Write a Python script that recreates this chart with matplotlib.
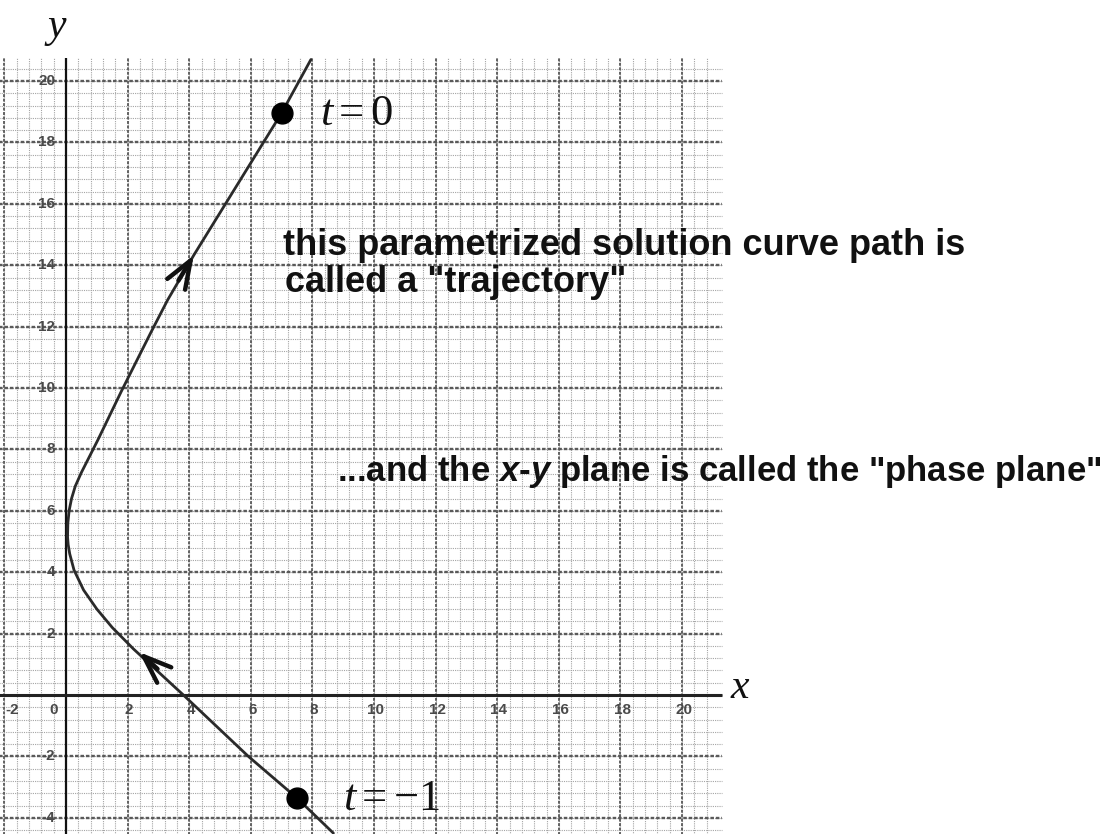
import numpy as np
import matplotlib
matplotlib.use("Agg")
import matplotlib.pyplot as plt

plt.rcParams['mathtext.fontset'] = 'custom'
plt.rcParams['mathtext.rm'] = 'Liberation Serif'
plt.rcParams['mathtext.it'] = 'Liberation Serif:italic'
plt.rcParams['mathtext.sf'] = 'Liberation Sans:italic:bold'

# ---- data ----
traj_x = [8.68, 7.49, 5.92, 3.81, 2.19, 1.5, 1.0, 0.57, 0.26, 0.12, 0.07, 0.05,
          0.06, 0.10, 0.18, 0.30, 0.50, 1.03, 1.8, 2.75, 3.3, 4.15, 7.0, 7.95]
traj_y = [-4.5, -3.35, -2.0, 0.0, 1.5, 2.2, 2.8, 3.42, 4.07, 4.6, 4.9, 5.15,
          5.6, 6.0, 6.4, 6.8, 7.25, 8.3, 9.9, 11.8, 12.87, 14.33, 18.96, 20.7]
marked_t = ["0", "\u22121"]
marked_x = [7.0, 7.49]
marked_y = [18.96, -3.35]
# arrowheads: tip position and direction along the trajectory
arrow_tip_x = [4.15, 2.37]
arrow_tip_y = [14.33, 1.4]
arrow_dir_x = [0.5, -0.6]
arrow_dir_y = [0.83, 0.55]

x_ticks = [-2, 0, 2, 4, 6, 8, 10, 12, 14, 16, 18, 20]
x_tick_labels = ["-2", "0", "2", "4", "6", "8", "10", "12", "14", "16", "18", "20"]
y_ticks = [20, 18, 16, 14, 12, 10, 8, 6, 4, 2, -2, -4]
y_tick_labels = ["20", "18", "16", "14", "12", "10", "8", "6", "4", "2", "-2", "-4"]

# paper extents
paper_x = (-2.2, 21.3)
paper_y = (-4.6, 20.75)

fig = plt.figure(figsize=(11.01, 8.34), dpi=100)
ax = fig.add_axes([0, 0, 1, 1])
ax.set_xlim(-2.143, 33.60)
ax.set_ylim(-4.528, 22.64)
ax.axis('off')

# graph paper grid
minor = np.arange(-4.8, 21.2, 0.4)
mx = minor[(minor >= paper_x[0]) & (minor <= paper_x[1])]
my = minor[(minor >= paper_y[0]) & (minor <= paper_y[1])]
ax.vlines(mx, paper_y[0], paper_y[1], color='#a5a5a5', lw=0.8, ls=(0, (1, 1)), zorder=1)
ax.hlines(my, paper_x[0], paper_x[1], color='#a5a5a5', lw=0.8, ls=(0, (1, 1)), zorder=1)
major = np.arange(-4, 22, 2)
Mx = major[(major >= paper_x[0]) & (major <= paper_x[1]) & (major != 0)]
My = major[(major >= paper_y[0]) & (major <= paper_y[1]) & (major != 0)]
ax.vlines(Mx, paper_y[0], paper_y[1], color='#626262', lw=1.4, ls=(0, (1.5, 0.8)), zorder=2)
ax.hlines(My, paper_x[0], paper_x[1], color='#5a5a5a', lw=1.7, ls=(0, (1.5, 0.8)), zorder=2)

# axes
ax.vlines(0, paper_y[0], paper_y[1], color='#111111', lw=1.6, zorder=3)
ax.hlines(0, paper_x[0], paper_x[1], color='#222222', lw=2.2, zorder=3)

# tick labels
for xv, lab in zip(x_ticks, x_tick_labels):
    xp = xv + 0.05
    if xv == 0:
        xp = -0.4
    if xv == -2:
        xp = -1.75
    ax.text(xp, -0.5, lab, ha='center', va='center', fontsize=11,
            fontweight='bold', color='#4a4a4a', family='Liberation Sans', zorder=4)
for yv, lab in zip(y_ticks, y_tick_labels):
    ax.text(-0.35, yv, lab, ha='right', va='center', fontsize=11,
            fontweight='bold', color='#4a4a4a', family='Liberation Sans', zorder=4)

# trajectory
ax.plot(traj_x, traj_y, color='#2a2a2a', lw=2.0, solid_capstyle='round',
        solid_joinstyle='round', zorder=5)
for hx, hy, dx, dy in zip(arrow_tip_x, arrow_tip_y, arrow_dir_x, arrow_dir_y):
    ax.annotate('', xy=(hx, hy), xytext=(hx - dx, hy - dy),
                arrowprops=dict(arrowstyle='->,head_length=2.0,head_width=0.75',
                                color='#111111', lw=3.2, shrinkA=0, shrinkB=0), zorder=6)

ax.plot(marked_x, marked_y, 'o', color='black', ms=15, zorder=7)
text_dx = [1.23, 1.5]
for t, mxv, myv, dx in zip(marked_t, marked_x, marked_y, text_dx):
    ax.text(mxv + dx, myv, r'$t=' + t + '$', ha='left', va='center', fontsize=32,
            color='#111111', zorder=7)

# axis names
ax.text(-0.32, 21.76, r'$y$', ha='center', va='center', fontsize=30, color='#111111')
ax.text(21.9, 0.29, r'$x$', ha='center', va='center', fontsize=30, color='#111111')

# annotations
ax.text(7.05, 14.33, 'this parametrized solution curve path is', ha='left', va='baseline',
        fontsize=26, fontweight='bold', family='Liberation Sans', color='#111111', zorder=8)
ax.text(7.1, 13.13, 'called a "trajectory"', ha='left', va='baseline',
        fontsize=26, fontweight='bold', family='Liberation Sans', color='#111111', zorder=8)
ax.text(8.8, 6.97, '...and the $\\mathsf{x}$-$\\mathsf{y}$ plane is called the "phase plane"',
        ha='left', va='baseline', fontsize=25, fontweight='bold', family='Liberation Sans',
        color='#111111', zorder=8)

fig.savefig('out.png', dpi=100)
